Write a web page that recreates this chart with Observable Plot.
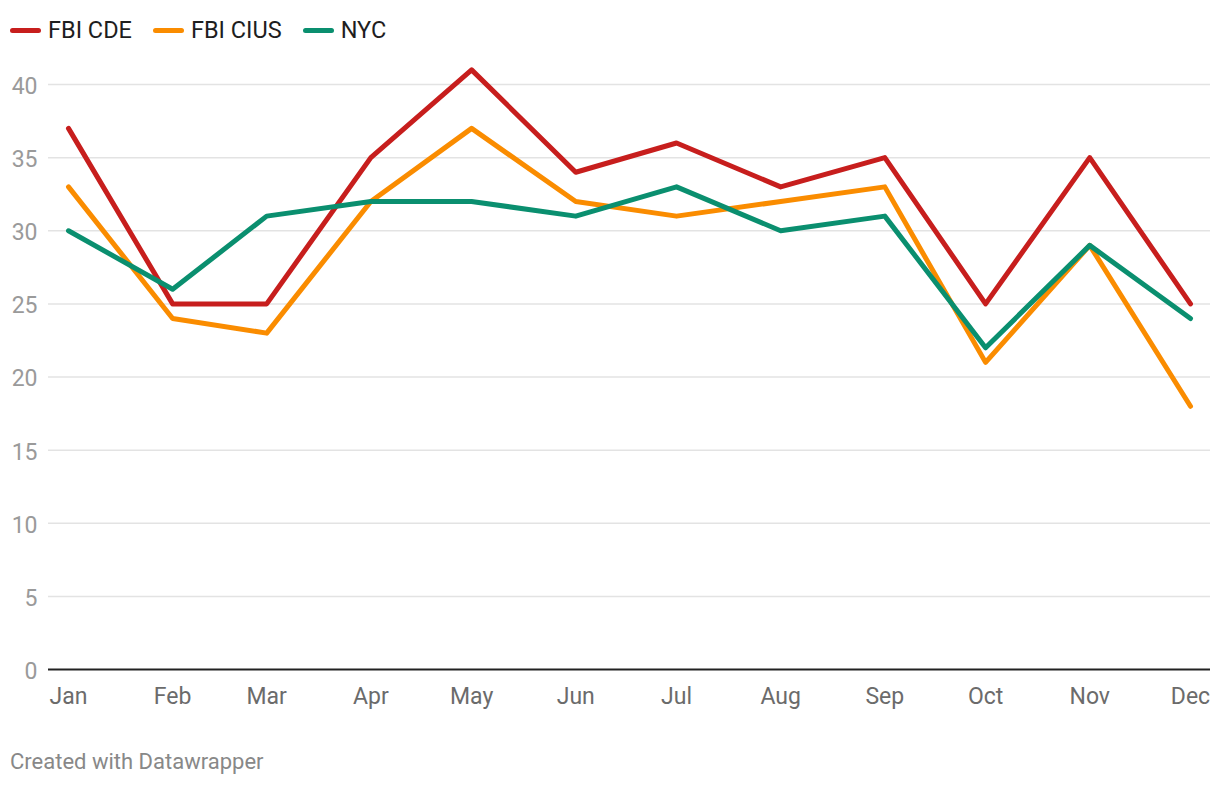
<!DOCTYPE html>
<html>
<head>
<meta charset="utf-8">
<script src="https://cdn.jsdelivr.net/npm/d3@7"></script>
<script src="https://cdn.jsdelivr.net/npm/@observablehq/plot@0.6"></script>
<style>
  html, body { margin: 0; padding: 0; background: #fff; font-family: Roboto, sans-serif; }
  #wrap { width: 1220px; height: 786px; position: relative; }
  #legend { height: 50px; display: flex; align-items: center; padding-left: 10px; padding-top: 10px; box-sizing: border-box; font-size: 23.5px; color: #1e1e1e; }
  .item { display: flex; align-items: center; margin-right: 21px; }
  .sw { width: 31px; height: 5px; border-radius: 3px; margin-right: 7px; }
  #footer { position: absolute; left: 10px; top: 749px; font-size: 22px; color: #888; }
</style>
</head>
<body>
<div id="wrap">
  <div id="legend"></div>
  <div id="chart"></div>
  <div id="footer">Created with Datawrapper</div>
</div>
<script>
const months = ["Jan","Feb","Mar","Apr","May","Jun","Jul","Aug","Sep","Oct","Nov","Dec"];
const seriesNames = ["FBI CDE", "FBI CIUS", "NYC"];
const seriesColors = ["#c71e1d", "#fa8c00", "#0a8f6f"];
const fbiCDE  = [37, 25, 25, 35, 41, 34, 36, 33, 35, 25, 35, 25];
const fbiCIUS = [33, 24, 23, 32, 37, 32, 31, 32, 33, 21, 29, 18];
const nyc     = [30, 26, 31, 32, 32, 31, 33, 30, 31, 22, 29, 24];
const yTicks = [0, 5, 10, 15, 20, 25, 30, 35, 40];

const dates = months.map((m, i) => new Date(Date.UTC(2021, i, 1)));
const allSeries = [fbiCDE, fbiCIUS, nyc];
const data = [];
allSeries.forEach((vals, si) => vals.forEach((v, i) => data.push({series: seriesNames[si], date: dates[i], value: v})));

const legend = document.getElementById("legend");
seriesNames.forEach((n, i) => {
  const it = document.createElement("div");
  it.className = "item";
  it.innerHTML = `<span class="sw" style="background:${seriesColors[i]}"></span><span>${n}</span>`;
  legend.appendChild(it);
});

const chart = Plot.plot({
  width: 1220,
  height: 670,
  marginLeft: 68,
  marginRight: 30,
  marginTop: 34,
  marginBottom: 51,
  style: { fontFamily: "Roboto, sans-serif", background: "#fff" },
  x: { type: "utc", domain: [dates[0], dates[11]], axis: null },
  y: { domain: [0, 40], axis: null },
  color: { domain: seriesNames, range: seriesColors },
  marks: [
    Plot.ruleY(yTicks.filter(d => d > 0), { stroke: "#e3e3e3", strokeWidth: 1.5, insetLeft: -20, insetRight: -20 }),
    Plot.text(yTicks, { x: () => dates[0], y: d => d, text: d => String(d), dx: -31, textAnchor: "end", fill: "#9a9a9a", fontSize: 23, dy: 2 }),
    Plot.text(dates, { x: d => d, y: () => 0, text: (d, i) => months[i], dy: 27, fill: "#6b6b6b", fontSize: 23 }),
    Plot.lineY(data, { x: "date", y: "value", stroke: "series", z: "series", strokeWidth: 5, strokeLinejoin: "round", strokeLinecap: "round", clip: false }),
    Plot.ruleY([0], { stroke: "#222", strokeWidth: 2, insetLeft: -20, insetRight: -20 })
  ]
});
document.getElementById("chart").appendChild(chart);
</script>
</body>
</html>
